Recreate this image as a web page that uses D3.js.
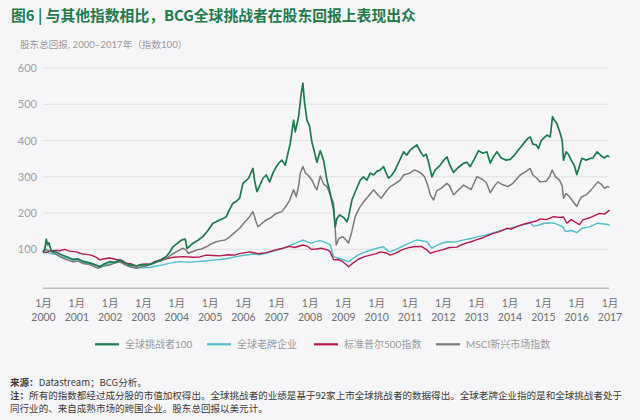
<!DOCTYPE html>
<html><head><meta charset="utf-8">
<script src="https://cdn.jsdelivr.net/npm/d3@7"></script>
<style>
html,body{margin:0;padding:0;background:#f6f6f8;}
svg{display:block;}
</style></head>
<body>
<svg id="c" width="640" height="420"></svg>
<script>
const title = "图6 | 与其他指数相比，BCG全球挑战者在股东回报上表现出众";
const subtitle = "股东总回报, 2000–2017年（指数100）";
const yTicks = [100, 200, 300, 400, 500, 600];
const xYears = [2000,2001,2002,2003,2004,2005,2006,2007,2008,2009,2010,2011,2012,2013,2014,2015,2016,2017];
const xMonthLabel = "1月";
const seriesNames = ["全球挑战者100", "全球老牌企业", "标准普尔500指数", "MSCI新兴市场指数"];

const challengers = [[2000.00,93],[2000.05,100],[2000.10,128],[2000.14,112],[2000.18,118],[2000.25,95],[2000.40,92],[2000.55,85],[2000.75,78],[2000.90,71],[2001.05,74],[2001.20,66],[2001.40,62],[2001.55,58],[2001.70,52],[2001.85,60],[2002.00,66],[2002.15,64],[2002.30,70],[2002.45,63],[2002.60,57],[2002.80,54],[2002.95,58],[2003.10,57],[2003.25,60],[2003.40,66],[2003.55,72],[2003.70,80],[2003.80,92],[2003.90,107],[2004.05,118],[2004.17,126],[2004.27,128],[2004.32,103],[2004.40,108],[2004.50,117],[2004.65,125],[2004.80,135],[2004.95,152],[2005.10,172],[2005.20,176],[2005.30,181],[2005.40,185],[2005.50,190],[2005.60,210],[2005.70,227],[2005.80,232],[2005.90,241],[2006.00,282],[2006.10,290],[2006.17,296],[2006.30,323],[2006.35,290],[2006.42,259],[2006.50,275],[2006.60,296],[2006.70,305],[2006.80,286],[2006.90,310],[2007.00,328],[2007.10,340],[2007.17,346],[2007.27,332],[2007.35,365],[2007.42,392],[2007.52,456],[2007.57,424],[2007.67,466],[2007.75,530],[2007.80,558],[2007.84,512],[2007.92,456],[2008.00,440],[2008.07,395],[2008.12,378],[2008.22,340],[2008.32,372],[2008.42,346],[2008.52,291],[2008.62,254],[2008.72,208],[2008.77,162],[2008.82,185],[2008.90,195],[2009.02,188],[2009.12,176],[2009.17,190],[2009.27,236],[2009.40,265],[2009.52,291],[2009.62,300],[2009.72,291],[2009.82,310],[2009.92,305],[2010.02,315],[2010.12,319],[2010.22,328],[2010.30,310],[2010.37,296],[2010.47,305],[2010.57,319],[2010.70,345],[2010.82,369],[2010.92,360],[2011.02,374],[2011.22,388],[2011.32,370],[2011.42,357],[2011.50,362],[2011.57,340],[2011.67,300],[2011.77,319],[2011.90,330],[2012.02,345],[2012.12,355],[2012.22,330],[2012.32,312],[2012.45,325],[2012.62,337],[2012.72,340],[2012.82,328],[2012.95,350],[2013.07,372],[2013.20,365],[2013.32,369],[2013.42,338],[2013.52,355],[2013.62,369],[2013.75,352],[2013.90,346],[2014.02,348],[2014.15,360],[2014.32,380],[2014.45,395],[2014.55,406],[2014.62,410],[2014.70,390],[2014.80,388],[2014.87,378],[2014.95,400],[2015.12,415],[2015.22,410],[2015.29,466],[2015.35,455],[2015.42,447],[2015.52,420],[2015.58,400],[2015.62,346],[2015.70,369],[2015.78,360],[2015.85,346],[2015.95,330],[2016.02,306],[2016.10,330],[2016.17,351],[2016.30,346],[2016.40,350],[2016.50,352],[2016.63,369],[2016.75,358],[2016.85,352],[2016.93,358],[2017.00,355]];

const incumbents = [[2000.00,90],[2000.10,93],[2000.25,88],[2000.40,86],[2000.55,80],[2000.70,76],[2000.90,74],[2001.05,72],[2001.25,67],[2001.45,63],[2001.60,56],[2001.70,52],[2001.85,57],[2002.00,60],[2002.20,64],[2002.30,66],[2002.45,60],[2002.60,54],[2002.80,49],[2003.00,49],[2003.20,50],[2003.40,54],[2003.60,57],[2003.80,62],[2004.10,66],[2004.35,64],[2004.60,66],[2004.85,68],[2005.20,71],[2005.50,74],[2005.80,80],[2006.00,83],[2006.30,87],[2006.50,85],[2006.70,89],[2006.95,96],[2007.20,103],[2007.40,110],[2007.60,118],[2007.80,126],[2007.95,120],[2008.05,117],[2008.20,122],[2008.32,124],[2008.45,120],[2008.62,112],[2008.72,80],[2008.85,76],[2009.00,72],[2009.17,66],[2009.30,75],[2009.45,84],[2009.60,90],[2009.82,98],[2010.02,103],[2010.22,107],[2010.35,96],[2010.42,93],[2010.60,100],[2010.75,107],[2011.00,118],[2011.22,126],[2011.40,123],[2011.52,121],[2011.67,103],[2011.80,110],[2012.00,118],[2012.15,121],[2012.35,120],[2012.62,126],[2012.85,130],[2013.05,135],[2013.30,140],[2013.52,146],[2013.75,152],[2014.02,158],[2014.30,165],[2014.62,173],[2014.72,164],[2014.85,166],[2015.05,172],[2015.32,173],[2015.45,168],[2015.60,162],[2015.68,149],[2015.85,152],[2016.02,146],[2016.17,158],[2016.40,162],[2016.65,172],[2016.85,170],[2017.00,167]];

const sp500 = [[2000.00,93],[2000.10,91],[2000.20,95],[2000.35,97],[2000.50,96],[2000.65,100],[2000.80,95],[2001.00,93],[2001.15,88],[2001.30,86],[2001.45,84],[2001.60,78],[2001.70,71],[2001.85,74],[2002.00,76],[2002.20,72],[2002.35,70],[2002.50,62],[2002.65,60],[2002.80,54],[2002.95,58],[2003.10,60],[2003.20,58],[2003.35,66],[2003.50,70],[2003.70,74],[2003.90,78],[2004.20,80],[2004.50,78],[2004.70,79],[2004.90,84],[2005.10,83],[2005.30,82],[2005.55,85],[2005.75,84],[2005.90,88],[2006.20,93],[2006.45,88],[2006.70,91],[2006.95,98],[2007.20,103],[2007.40,108],[2007.55,105],[2007.80,112],[2007.95,108],[2008.05,100],[2008.20,101],[2008.35,103],[2008.55,98],[2008.62,93],[2008.72,71],[2008.85,72],[2009.00,66],[2009.17,52],[2009.30,62],[2009.45,72],[2009.65,80],[2009.82,84],[2010.00,88],[2010.12,93],[2010.30,90],[2010.42,84],[2010.60,90],[2010.75,98],[2010.95,104],[2011.12,107],[2011.35,108],[2011.50,100],[2011.62,89],[2011.75,93],[2011.95,98],[2012.20,105],[2012.42,106],[2012.55,112],[2012.72,118],[2012.85,121],[2013.00,126],[2013.20,132],[2013.40,140],[2013.52,144],[2013.70,149],[2013.92,158],[2014.05,156],[2014.25,164],[2014.45,170],[2014.62,174],[2014.80,178],[2014.92,184],[2015.10,182],[2015.32,190],[2015.50,188],[2015.62,189],[2015.72,172],[2015.85,182],[2016.02,172],[2016.10,168],[2016.20,181],[2016.40,187],[2016.55,193],[2016.70,199],[2016.85,197],[2017.00,208]];

const msciEM = [[2000.00,93],[2000.10,100],[2000.20,95],[2000.35,89],[2000.50,80],[2000.70,72],[2000.90,66],[2001.05,68],[2001.20,61],[2001.40,58],[2001.55,52],[2001.65,48],[2001.80,53],[2002.00,57],[2002.15,62],[2002.30,66],[2002.45,58],[2002.60,52],[2002.80,48],[2002.95,52],[2003.10,54],[2003.30,60],[2003.45,66],[2003.60,70],[2003.70,75],[2003.85,85],[2004.00,93],[2004.20,103],[2004.30,98],[2004.36,89],[2004.50,94],[2004.60,98],[2004.75,101],[2004.90,107],[2005.05,115],[2005.20,121],[2005.35,124],[2005.47,126],[2005.60,134],[2005.67,140],[2005.80,150],[2005.90,158],[2006.05,175],[2006.20,190],[2006.30,204],[2006.38,180],[2006.45,162],[2006.55,170],[2006.70,181],[2006.85,188],[2007.00,199],[2007.17,204],[2007.30,220],[2007.40,235],[2007.52,264],[2007.60,245],[2007.67,275],[2007.72,310],[2007.80,328],[2007.88,310],[2007.95,305],[2008.07,291],[2008.15,275],[2008.22,264],[2008.32,302],[2008.42,280],[2008.52,273],[2008.62,250],[2008.72,227],[2008.80,112],[2008.88,130],[2009.00,135],[2009.10,125],[2009.17,117],[2009.27,150],[2009.37,190],[2009.50,215],[2009.62,231],[2009.75,245],[2009.92,264],[2010.05,250],[2010.15,241],[2010.30,260],[2010.42,273],[2010.55,280],[2010.72,291],[2010.82,305],[2011.00,310],[2011.15,319],[2011.32,312],[2011.45,300],[2011.55,275],[2011.62,250],[2011.72,236],[2011.82,262],[2011.95,268],[2012.12,282],[2012.20,275],[2012.32,250],[2012.45,262],[2012.62,277],[2012.75,270],[2012.85,265],[2013.02,300],[2013.15,295],[2013.30,285],[2013.42,256],[2013.55,275],[2013.65,286],[2013.80,278],[2013.95,273],[2014.10,282],[2014.32,305],[2014.50,315],[2014.62,323],[2014.70,305],[2014.82,296],[2014.92,286],[2015.10,288],[2015.20,300],[2015.28,319],[2015.38,300],[2015.50,291],[2015.58,275],[2015.62,241],[2015.70,254],[2015.80,245],[2015.92,230],[2016.02,218],[2016.10,235],[2016.17,245],[2016.30,250],[2016.45,264],[2016.55,275],[2016.65,286],[2016.75,280],[2016.85,268],[2016.93,273],[2017.00,271]];

const sourceLabel = "来源：";
const sourceText = "Datastream；BCG分析。";
const noteLabel = "注：";
const noteLine1 = "所有的指数都经过成分股的市值加权得出。全球挑战者的业绩是基于92家上市全球挑战者的数据得出。全球老牌企业指的是和全球挑战者处于";
const noteLine2 = "同行业的、来自成熟市场的跨国企业。股东总回报以美元计。";

const colors = ["#1c7a4e", "#4fbfcc", "#b5174f", "#7b7b7b"];

const svg = d3.select("#c");
const FONT = "Lato, 'Noto Sans CJK SC', sans-serif";
svg.append("rect").attr("width",640).attr("height",420).attr("fill","#f6f6f8");

const x = d3.scaleLinear().domain([2000, 2017]).range([43, 609.5]);
const y = d3.scaleLinear().domain([0, 600]).range([285.6, 68]);

// title
svg.append("text").attr("x", 11).attr("y", 21)
  .attr("font-family", "'Noto Sans CJK SC', sans-serif").attr("font-weight", 700)
  .attr("font-size", 14.8).attr("fill", "#1f7a4f").text(title);
svg.append("text").attr("x", 20).attr("y", 48)
  .attr("font-family", FONT).attr("font-size", 9.6).attr("fill", "#9a9a9a").text(subtitle);

// grid
const gGrid = svg.append("g");
gGrid.selectAll("line").data(yTicks).join("line")
  .attr("x1", 43).attr("x2", 608).attr("y1", d => y(d)).attr("y2", d => y(d))
  .attr("stroke", "#e2e2e4").attr("stroke-width", 1);

// y labels via axis
const yAxis = d3.axisLeft(y).tickValues(yTicks).tickSize(0).tickPadding(0);
const gy = svg.append("g").attr("transform", "translate(37,0)").call(yAxis);
gy.select(".domain").remove();
gy.selectAll("text").attr("font-family", FONT).attr("font-size", 11).attr("fill", "#a0a0a0");

// baseline
svg.append("line").attr("x1", 43).attr("x2", 609).attr("y1", 288.3).attr("y2", 288.3)
  .attr("stroke", "#bdbdbd").attr("stroke-width", 1.6);

// x labels
const xAxis = d3.axisBottom(x).tickValues(xYears).tickSize(0).tickFormat(() => "");
const gx = svg.append("g").attr("transform", "translate(0,288)").call(xAxis);
gx.select(".domain").remove();
gx.selectAll(".tick").each(function(d){
  const t = d3.select(this);
  t.append("text").attr("y", 18.5).attr("text-anchor","middle").attr("font-family", FONT)
    .attr("font-size", 10.5).attr("fill", "#707070").text(xMonthLabel);
  t.append("text").attr("y", 33).attr("text-anchor","middle").attr("font-family", FONT)
    .attr("font-size", 10.5).attr("fill", "#707070").text(String(d));
});

// lines
const line = d3.line().x(d => x(d[0])).y(d => y(d[1]));
const order = [[incumbents,1,1.4],[sp500,2,1.4],[msciEM,3,1.5],[challengers,0,1.7]];
order.forEach(([data, ci, w]) => {
  svg.append("path").attr("d", line(data)).attr("fill","none")
    .attr("stroke", colors[ci]).attr("stroke-width", w).attr("stroke-linejoin","round");
});

// legend
const legendX = [95, 207, 314, 436];
const lg = svg.append("g");
seriesNames.forEach((n,i) => {
  lg.append("line").attr("x1", legendX[i]).attr("x2", legendX[i]+24).attr("y1", 344.3).attr("y2", 344.3)
    .attr("stroke", colors[i]).attr("stroke-width", 2.2);
  lg.append("text").attr("x", legendX[i]+30).attr("y", 348).attr("font-family", FONT)
    .attr("font-size", 10).attr("fill", "#9a9a9a").text(n);
});

// footnotes
const fn = svg.append("g").attr("font-family", "'Noto Sans CJK SC', sans-serif").attr("font-size", 9.55).attr("fill", "#3a3a3a");
const t1 = fn.append("text").attr("x", 10).attr("y", 386);
t1.append("tspan").attr("font-weight", 700).text(sourceLabel);
t1.append("tspan").text(sourceText);
const t2 = fn.append("text").attr("x", 10).attr("y", 399);
t2.append("tspan").attr("font-weight", 700).text(noteLabel);
t2.append("tspan").text(noteLine1);
fn.append("text").attr("x", 10).attr("y", 412).text(noteLine2);
</script>
</body></html>
